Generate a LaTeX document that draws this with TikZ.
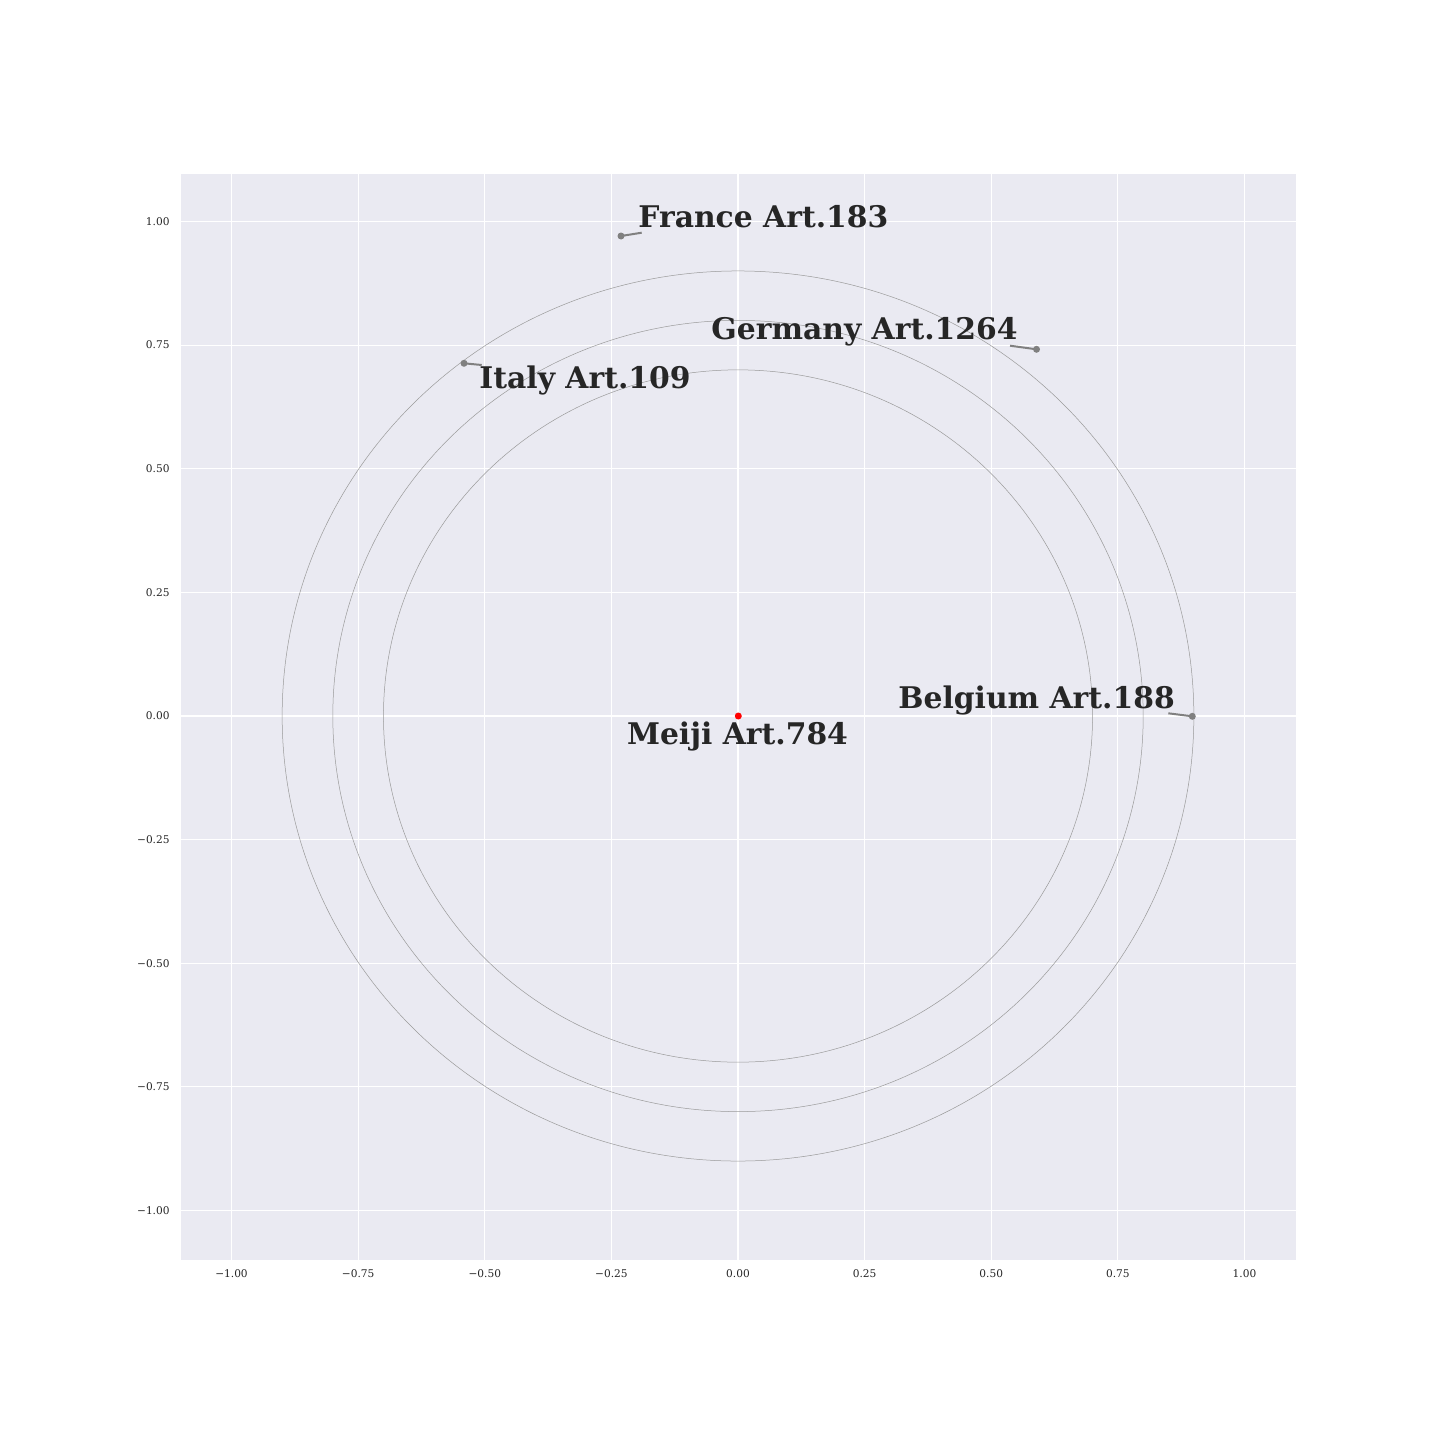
\documentclass[tikz,border=0pt]{standalone}
\usepackage{fontspec}
\setmainfont{DejaVu Serif}
\begin{document}
\begin{tikzpicture}[x=0.5pt,y=-0.5pt,
  lbl/.style={font=\fontsize{14.9pt}{17pt}\selectfont\bfseries, text=labelc, inner sep=0pt},
  ticklbl/.style={font=\fontsize{5.3pt}{6pt}\selectfont, text=labelc, inner sep=0pt},
  gridline/.style={draw=white, line width=0.6pt},
  ring/.style={draw=ringc, line width=0.25pt},
  dotmark/.style={circle, fill=markc, inner sep=0pt, minimum size=3.5pt},
  conn/.style={draw=markc, line width=1pt}]
\definecolor{bgc}{HTML}{EAEAF2}
\definecolor{labelc}{HTML}{262626}
\definecolor{ringc}{HTML}{9A9A9A}
\definecolor{markc}{HTML}{808080}
\useasboundingbox (0,0) rectangle (1440,1440);
\fill[white] (0,0) rectangle (1440,1440);
% axes
\fill[bgc] (181,174) rectangle (1296,1260);
% grid (data -> px: x = 738+506.5 v, y = 716-494.5 v)
\foreach \v/\t in {-1/{−1.00},-0.75/{−0.75},-0.5/{−0.50},-0.25/{−0.25},0/{0.00},0.25/{0.25},0.5/{0.50},0.75/{0.75},1/{1.00}}{
  \pgfmathsetmacro{\px}{738+506.5*\v}
  \pgfmathsetmacro{\py}{716-494.5*\v}
  \draw[gridline] (\px,174) -- (\px,1260);
  \draw[gridline] (181,\py) -- (1296,\py);
  \node[ticklbl, anchor=center] (xt\px) at (\px,1274) {\t};
  \node[ticklbl, anchor=east] (yt\py) at (170,\py) {\t};
}
% rings
\draw[ring] (738,716) ellipse [x radius=354.55, y radius=346.15];
\draw[ring] (738,716) ellipse [x radius=405.2, y radius=395.6];
\draw[ring] (738,716) ellipse [x radius=455.85, y radius=445.05];
% markers
\node[dotmark] (mF) at (621,236) {};
\node[dotmark] (mI) at (464,363.3) {};
\node[dotmark] (mG) at (1036.5,349.3) {};
\node[dotmark] (mB) at (1192.3,716.3) {};
\node[circle, fill=red, inner sep=0pt, minimum size=3.5pt] (mM) at (738.3,716) {};
% connector ends
\coordinate (cF) at (641.7,232.7);
\coordinate (cI) at (481.7,365);
\coordinate (cG) at (1010,345.7);
\coordinate (cB) at (1168.3,713.3);
\draw[conn] (mF.center) -- (cF);
\draw[conn] (mI.center) -- (cI);
\draw[conn] (mG.center) -- (cG);
\draw[conn] (mB.center) -- (cB);
% labels
\node[lbl, anchor=base west] (lF) at (638,227.5) {France Art.183};
\node[lbl, anchor=base west] (lI) at (479,388) {Italy Art.109};
\node[lbl, anchor=base west] (lG) at (711,339) {Germany Art.1264};
\node[lbl, anchor=base west] (lB) at (898,708) {Belgium Art.188};
\node[lbl, anchor=base] (lM) at (737.5,744) {Meiji Art.784};
\end{tikzpicture}
\end{document}
